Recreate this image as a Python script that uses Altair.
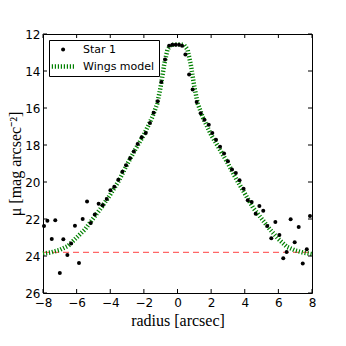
import altair as alt
import pandas as pd

# Star 1 surface-brightness profile
star_x = [-7.94, -7.74, -7.48, -7.27, -7.00, -6.79, -6.55, -6.33, -6.10, -5.86,
          -5.64, -5.38, -5.16, -4.92, -4.69, -4.45, -4.21, -3.99, -3.76, -3.52,
          -3.28, -3.06, -2.82, -2.60, -2.37, -2.13, -1.89, -1.64, -1.42, -1.18,
          -0.96, -0.74, -0.50, -0.31, -0.11, 0.09, 0.27, 0.47, 0.69, 0.90,
          1.14, 1.38, 1.60, 1.86, 2.07, 2.29, 2.53, 2.77, 3.00, 3.24,
          3.47, 3.69, 3.93, 4.18, 4.41, 4.65, 4.87, 5.10, 5.34, 5.58,
          5.82, 6.06, 6.29, 6.49, 6.73, 6.97, 7.21, 7.45, 7.69, 7.88]
star_y = [22.38, 22.10, 23.08, 22.07, 24.92, 23.09, 23.94, 23.33, 22.36, 24.38,
          22.00, 21.05, 22.21, 21.76, 21.17, 21.26, 20.92, 20.44, 20.26, 19.88,
          19.45, 19.09, 18.71, 18.35, 17.94, 17.58, 17.35, 16.81, 16.26, 15.63,
          14.60, 13.38, 12.63, 12.58, 12.58, 12.58, 12.63, 13.11, 14.19, 15.00,
          15.68, 16.28, 16.63, 16.90, 17.35, 17.71, 18.10, 18.46, 18.88, 19.32,
          19.52, 19.90, 20.36, 20.98, 21.08, 21.71, 21.30, 21.56, 22.38, 23.04,
          22.16, 22.87, 24.12, 23.79, 22.02, 23.25, 22.43, 24.41, 23.63, 21.84]

# Wings model curve
model_x = [-8.0, -7.5, -7.0, -6.5, -6.0, -5.5, -5.0, -4.5, -4.0, -3.5, -3.0,
           -2.5, -2.0, -1.5, -1.2, -1.0, -0.8, -0.6, -0.4, -0.2, 0.0, 0.2,
           0.4, 0.6, 0.8, 1.0, 1.2, 1.5, 2.0, 2.5, 3.0, 3.5, 4.0, 4.5, 5.0,
           5.5, 6.0, 6.5, 7.0, 7.5, 8.0]
model_y = [23.87, 23.80, 23.67, 23.45, 23.00, 22.56, 21.95, 21.35, 20.68, 19.95, 19.05,
           18.22, 17.45, 16.50, 15.75, 14.85, 13.70, 12.85, 12.60, 12.57, 12.57, 12.57,
           12.60, 12.85, 13.70, 14.85, 15.75, 16.50, 17.45, 18.22, 19.00, 19.85, 20.62,
           21.40, 21.98, 22.56, 23.08, 23.50, 23.70, 23.82, 23.90]

sky_level = 23.8
x_ticks = [-8, -6, -4, -2, 0, 2, 4, 6, 8]
y_ticks = [12, 14, 16, 18, 20, 22, 24, 26]
series = ["Star 1", "Wings model"]

W, H = 269, 259
TICK = 4

stars = pd.DataFrame({"r": star_x, "mu": star_y, "series": series[0]})
model = pd.DataFrame({"r": model_x, "mu": model_y, "series": series[1]})
sky = pd.DataFrame({"r": [x_ticks[0]], "r2": [x_ticks[-1]], "mu": [sky_level]})
xt = pd.DataFrame({"r": x_ticks})
yt = pd.DataFrame({"mu": y_ticks})

xs = alt.Scale(domain=[x_ticks[0], x_ticks[-1]], nice=False, zero=False)
ys = alt.Scale(domain=[y_ticks[0], y_ticks[-1]], reverse=True, nice=False, zero=False)

# legend glyphs (unit path coordinates, scaled by the legend symbol size)
dot_path = "M1.32,0A0.4,0.4 0 1,0 0.52,0A0.4,0.4 0 1,0 1.32,0Z"
stripe_xs = [-1.22, -0.62, -0.02, 0.58, 1.18, 1.78, 2.38, 2.98]
stripe_path = "".join(f"M{s:.2f},-0.46V0.46" for s in stripe_xs)

is_star = "datum.value === 'Star 1'"
legend = alt.Legend(
    title=None, orient="top-left", offset=6,
    strokeColor="black", fillColor="white", cornerRadius=0, padding=4,
    rowPadding=5, labelFont="DejaVu Sans", labelFontSize=11, labelColor="black",
    labelOffset=19,
    symbolType={"expr": f"{is_star} ? '{dot_path}' : '{stripe_path}'"},
    symbolSize=100,
    symbolStrokeWidth={"expr": f"{is_star} ? 0 : 1.2"},
    symbolDash=[1, 0],
    symbolOpacity=1,
)
color = alt.Color("series:N", scale=alt.Scale(domain=series, range=["black", "green"]), legend=legend)

common_axis = dict(tickSize=0, domain=False, grid=False, labelOverlap=False, labelFlush=False,
                   labelFont="DejaVu Sans", labelFontSize=12, labelColor="black",
                   titleFont="Liberation Serif", titleFontSize=16, titleFontWeight="normal",
                   titleColor="black")
x_axis = alt.Axis(values=x_ticks, title="radius [arcsec]", labelPadding=4, titlePadding=4, **common_axis)
y_axis = alt.Axis(values=y_ticks, title="μ [mag arcsec⁻²]", labelPadding=3, titlePadding=1, **common_axis)


def X(field="r"):
    return alt.X(f"{field}:Q", scale=xs, axis=x_axis, title="radius [arcsec]")


def Y(field="mu"):
    return alt.Y(f"{field}:Q", scale=ys, axis=y_axis, title="μ [mag arcsec⁻²]")


sky_line = alt.Chart(sky).mark_rule(color="red", opacity=0.75, strokeDash=[6, 4], strokeWidth=1).encode(
    x=X(), x2="r2:Q", y=Y())

model_line = alt.Chart(model).mark_line(strokeWidth=4.5, strokeDash=[1.2, 1.8], strokeCap="butt").encode(
    x=X(), y=Y(), color=color, order="r:Q")

points = alt.Chart(stars).mark_circle(size=16, opacity=1).encode(x=X(), y=Y(), color=color)

tick_style = dict(color="black", strokeWidth=1)
bottom = alt.Chart(xt).mark_rule(**tick_style).encode(x=X(), y=alt.value(H), y2=alt.value(H - TICK))
top = alt.Chart(xt).mark_rule(**tick_style).encode(x=X(), y=alt.value(0), y2=alt.value(TICK))
left = alt.Chart(yt).mark_rule(**tick_style).encode(y=Y(), x=alt.value(0), x2=alt.value(TICK))
right = alt.Chart(yt).mark_rule(**tick_style).encode(y=Y(), x=alt.value(W), x2=alt.value(W - TICK))

chart = alt.layer(sky_line, model_line, points, bottom, top, left, right).properties(
    width=W, height=H,
    autosize=alt.AutoSizeParams(type="none"),
    padding={"left": 35, "top": 26, "right": 26, "bottom": 45},
    background="white",
).configure_view(stroke="black", strokeWidth=1)

chart.save("out.html", embed_options={"renderer": "svg", "actions": False})
